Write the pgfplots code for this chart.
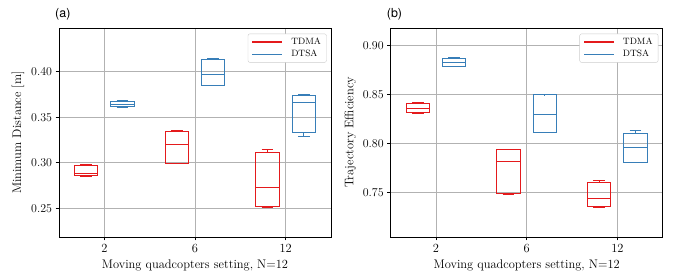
\documentclass[border=0pt]{standalone}
\usepackage{fontspec}
\newfontfamily\helv{TeX Gyre Heros}
\usepackage{pgfplots}
\pgfplotsset{compat=1.18}
\usepgfplotslibrary{statistics}
\definecolor{cred}{HTML}{E41A1C}
\definecolor{cblue}{HTML}{377EB8}
\pgfplotsset{
  mystyle/.style={
    width=272bp, height=209bp, scale only axis, clip=false,
    xmin=-0.5, xmax=2.5, xtick={0,1,2}, xticklabels={2,6,12},
    grid=major, major grid style={color=black!30, line width=0.8bp},
    axis line style={line width=0.9bp},
    tick align=outside, major tick length=3.5bp, tick style={black, line width=0.8bp},
    tick pos=left,
    tick label style={font=\fontsize{12.5}{15}\selectfont},
    yticklabel style={/pgf/number format/fixed, /pgf/number format/fixed zerofill, /pgf/number format/precision=2},
    label style={font=\fontsize{12.5}{15}\selectfont},
    xlabel={Moving quadcopters setting, N=12},
    legend style={at={(0.984,0.973)}, anchor=north east, font=\fontsize{9.2}{11}\selectfont,
      draw=black!20, rounded corners=2bp, inner xsep=3.5bp, inner ysep=2bp,
      row sep=0.5bp},
    legend cell align=left,
    legend image code/.code={\draw[#1] (0bp,0bp) -- (30bp,0bp); \path (36bp,0bp);},
    boxplot/draw direction=y,
    boxplot/box extend=0.257,
    boxplot/whisker extend=0.13,
  },
  tdma/.style={draw=cred, line width=0.9bp, solid, forget plot, fill=none, mark=none},
  dtsa/.style={draw=cblue, line width=0.9bp, solid, forget plot, fill=none, mark=none},
}
\begin{document}
\begin{tikzpicture}
\path[use as bounding box] (0,0) rectangle (678bp,278bp);
% ---------------- (a)
\begin{axis}[mystyle, at={(59bp,41bp)}, anchor=south west,
  ymin=0.2185, ymax=0.448, ytick={0.25,0.30,0.35,0.40},
  ylabel={Minimum Distance [m]}]
\addplot[tdma, boxplot prepared={draw position=-0.2, lower whisker=0.2850, lower quartile=0.2861, median=0.2886, upper quartile=0.2974, upper whisker=0.2982}] coordinates {};
\addplot[dtsa, boxplot prepared={draw position=0.2, lower whisker=0.3604, lower quartile=0.3623, median=0.3645, upper quartile=0.3678, upper whisker=0.3689}] coordinates {};
\addplot[tdma, boxplot prepared={draw position=0.8, lower whisker=0.2994, lower quartile=0.2996, median=0.3205, upper quartile=0.3348, upper whisker=0.3350}] coordinates {};
\addplot[dtsa, boxplot prepared={draw position=1.2, lower whisker=0.3851, lower quartile=0.3853, median=0.3971, upper quartile=0.4139, upper whisker=0.4141}] coordinates {};
\addplot[tdma, boxplot prepared={draw position=1.8, lower whisker=0.2509, lower quartile=0.2520, median=0.2725, upper quartile=0.3114, upper whisker=0.3147}] coordinates {};
\addplot[dtsa, boxplot prepared={draw position=2.2, lower whisker=0.3293, lower quartile=0.3330, median=0.3667, upper quartile=0.3740, upper whisker=0.3747}] coordinates {};
\addlegendimage{cred, line width=1.8bp}\addlegendentry{TDMA}
\addlegendimage{cblue, line width=1.8bp}\addlegendentry{DTSA}
\node[anchor=base west, font=\helv\fontsize{12.5}{15}\selectfont, inner sep=0pt] at ([xshift=-4bp,yshift=10.6bp]rel axis cs:0,1) {(a)};
\end{axis}
% ---------------- (b)
\begin{axis}[mystyle, at={(390.7bp,41bp)}, anchor=south west,
  ymin=0.705, ymax=0.9177, ytick={0.75,0.80,0.85,0.90},
  ylabel={Trajectory Efficiency}]
\addplot[tdma, boxplot prepared={draw position=-0.2, lower whisker=0.8312, lower quartile=0.8318, median=0.8359, upper quartile=0.8410, upper whisker=0.8417}] coordinates {};
\addplot[dtsa, boxplot prepared={draw position=0.2, lower whisker=0.8785, lower quartile=0.8789, median=0.8830, upper quartile=0.8870, upper whisker=0.8877}] coordinates {};
\addplot[tdma, boxplot prepared={draw position=0.8, lower whisker=0.7488, lower quartile=0.7490, median=0.7821, upper quartile=0.7940, upper whisker=0.7942}] coordinates {};
\addplot[dtsa, boxplot prepared={draw position=1.2, lower whisker=0.8115, lower quartile=0.8117, median=0.8298, upper quartile=0.8496, upper whisker=0.8498}] coordinates {};
\addplot[tdma, boxplot prepared={draw position=1.8, lower whisker=0.7354, lower quartile=0.7357, median=0.7439, upper quartile=0.7606, upper whisker=0.7623}] coordinates {};
\addplot[dtsa, boxplot prepared={draw position=2.2, lower whisker=0.7807, lower quartile=0.7811, median=0.7961, upper quartile=0.8107, upper whisker=0.8138}] coordinates {};
\addlegendimage{cred, line width=1.8bp}\addlegendentry{TDMA}
\addlegendimage{cblue, line width=1.8bp}\addlegendentry{DTSA}
\node[anchor=base west, font=\helv\fontsize{12.5}{15}\selectfont, inner sep=0pt] at ([xshift=-4bp,yshift=10.6bp]rel axis cs:0,1) {(b)};
\end{axis}
\end{tikzpicture}
\end{document}
